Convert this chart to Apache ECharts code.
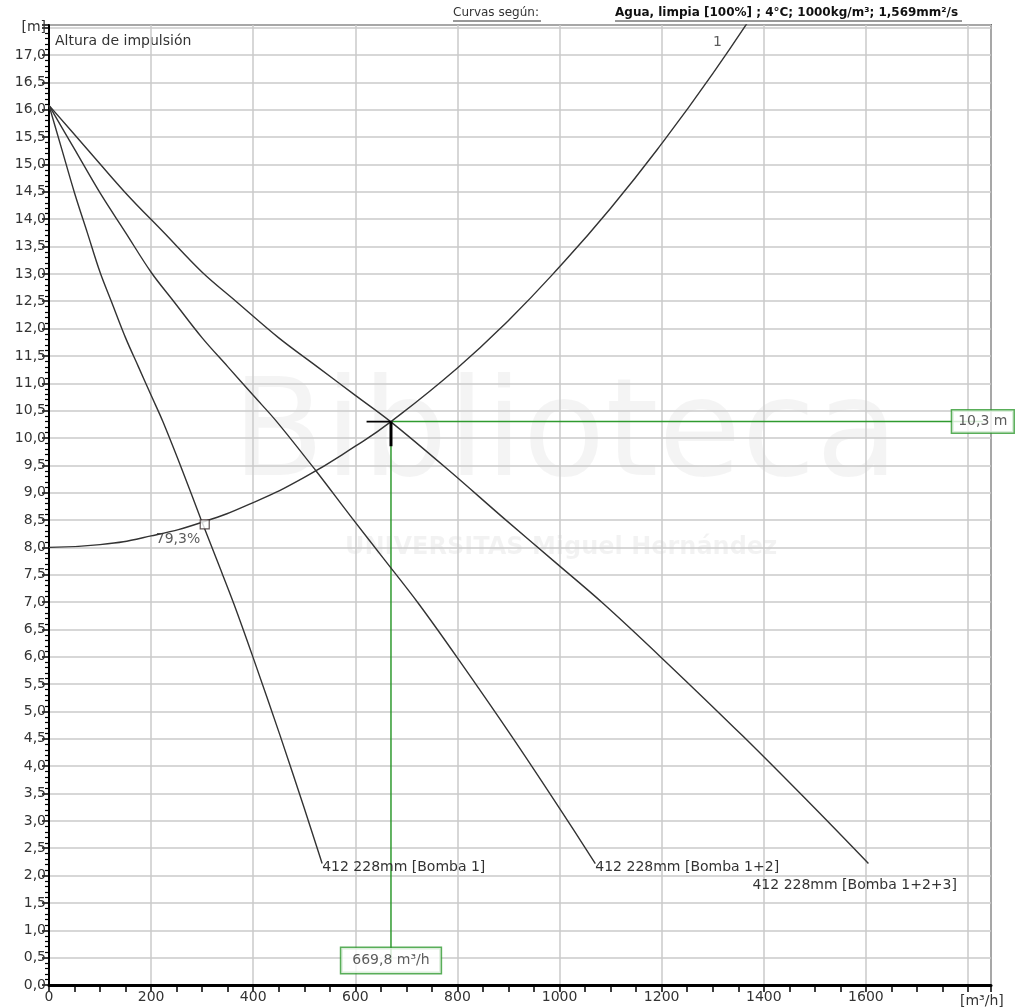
<!DOCTYPE html>
<html><head><meta charset="utf-8">
<script src="https://cdn.jsdelivr.net/npm/echarts@6/dist/echarts.min.js"></script>
<style>html,body{margin:0;padding:0;background:#fff}#c{width:1016px;height:1008px}</style>
</head><body><div id="c"></div>
<script>
// ---- data ----
// single pump curve, flow [m3/h] and head [m]
const bomba1Q   = [0, 25, 50, 75, 100, 122, 150, 175, 200, 223, 261, 297, 330, 362, 400, 453, 500, 535];
const bomba12Q  = [0, 50, 100, 150, 200, 244, 300, 350, 400, 446, 522, 594, 660, 724, 800, 906, 1000, 1070];
const bomba123Q = [0, 75, 150, 225, 300, 366, 450, 525, 600, 669, 783, 891, 990, 1086, 1200, 1359, 1500, 1605];
const bombaH    = [16.08, 15.28, 14.48, 13.755, 13.03, 12.50, 11.83, 11.305, 10.78, 10.30, 9.41, 8.53, 7.74, 6.97, 5.98, 4.55, 3.23, 2.22];
// system curve
const systemQ = [0, 100, 200, 300, 400, 500, 600, 669.8, 800, 900, 1000, 1100, 1200, 1300, 1400];
const systemH = [8.00, 8.05, 8.21, 8.46, 8.82, 9.28, 9.85, 10.30, 11.28, 12.15, 13.13, 14.20, 15.38, 16.66, 18.05];
// operating point
const opQ = 669.8, opH = 10.3;
const opLabelQ = '669,8 m³/h', opLabelH = '10,3 m';
const effPoint = [305, 8.42], effLabel = '79,3%';
const curveLabels = ['412 228mm [Bomba 1]', '412 228mm [Bomba 1+2]', '412 228mm [Bomba 1+2+3]'];
// axes
const xMin = 0, xMax = 1845, xStep = 200, xLastLabel = 1600;
const yMin = 0, yMax = 17.55, yStep = 0.5;

const FF = 'DejaVu Sans';
const GREEN = '#2f9a2f';
const INK = '#333';

const zip = (a, b) => a.map((v, i) => [v, b[i]]);
const chart = echarts.init(document.getElementById('c'), null, {renderer: 'canvas'});

const pumpSeries = (name, q, lbl, off) => ({
  type: 'line', name, data: zip(q, bombaH), smooth: 0.35, symbol: 'none',
  lineStyle: {color: INK, width: 1.4}, z: 3,
  endLabel: {show: true, formatter: lbl, fontFamily: FF, fontSize: 14, color: INK, distance: 0, offset: off}
});

chart.setOption({
  animation: false,
  grid: {left: 49, right: 25, top: 25, bottom: 23, show: true, borderColor: '#000', borderWidth: 1.5},
  xAxis: {
    type: 'value', min: xMin, max: xMax, interval: xStep,
    axisLine: {lineStyle: {color: '#000', width: 3}},
    axisTick: {length: 7, lineStyle: {color: '#000', width: 1.5}},
    minorTick: {show: true, splitNumber: 4, length: 7, lineStyle: {color: '#000', width: 1.5}},
    splitLine: {show: true, lineStyle: {color: '#cacaca', width: 1.5}},
    axisLabel: {fontFamily: FF, fontSize: 14, color: INK, margin: 5,
      formatter: v => (v % xStep === 0 && v <= xLastLabel) ? String(v) : ''}
  },
  yAxis: {
    type: 'value', min: yMin, max: yMax, interval: yStep,
    axisLine: {lineStyle: {color: '#000', width: 2}},
    axisTick: {length: 7, lineStyle: {color: '#000', width: 1.5}},
    minorTick: {show: true, splitNumber: 5, length: 4, lineStyle: {color: '#000', width: 1.2}},
    splitLine: {show: true, lineStyle: {color: '#cacaca', width: 1.5}},
    axisLabel: {fontFamily: FF, fontSize: 14, color: INK, margin: 3,
      formatter: v => {
        if (Math.abs(v - 17.5) < 1e-6) return '[m]';
        if (Math.abs(v * 2 - Math.round(v * 2)) > 1e-6) return '';
        return v.toFixed(1).replace('.', ',');
      }}
  },
  graphic: [
    {type: 'text', left: 232, top: 372, silent: true, z: -10,
      style: {text: 'Biblioteca', font: '135px "DejaVu Sans"', fill: 'rgba(0,0,0,0.045)'}},
    {type: 'text', left: 345, top: 536, silent: true, z: -10,
      style: {text: 'UNIVERSITAS Miguel Hernández', font: 'bold 24px "DejaVu Sans"', fill: 'rgba(0,0,0,0.05)'}},
    {type: 'text', left: 55, top: 34, style: {text: 'Altura de impulsión', font: '14px "DejaVu Sans"', fill: INK}},
    {type: 'text', left: 960, top: 994, style: {text: '[m³/h]', font: '14px "DejaVu Sans"', fill: INK}},
    {type: 'text', left: 453, top: 7, style: {text: 'Curvas según:', font: '12px "DejaVu Sans"', fill: INK}},
    {type: 'line', shape: {x1: 453, y1: 21, x2: 541, y2: 21}, style: {stroke: INK, lineWidth: 1}},
    {type: 'text', left: 615, top: 7, style: {text: 'Agua, limpia [100%] ; 4°C; 1000kg/m³; 1,569mm²/s', font: 'bold 12px "DejaVu Sans"', fill: '#111'}},
    {type: 'line', shape: {x1: 615, y1: 21, x2: 962, y2: 21}, style: {stroke: INK, lineWidth: 1}}
  ],
  series: [
    {type: 'line', data: zip(systemQ, systemH), smooth: true, symbol: 'none', clip: true,
      lineStyle: {color: INK, width: 1.4}, z: 3},
    pumpSeries('b1', bomba1Q, curveLabels[0], [0, 4]),
    pumpSeries('b12', bomba12Q, curveLabels[1], [0, 4]),
    pumpSeries('b123', bomba123Q, curveLabels[2], [-116, 22]),
    // green guide lines to the operating point
    {type: 'line', data: [[opQ, opH], [1829, opH]], symbol: 'none', lineStyle: {color: GREEN, width: 1.5}, z: 2},
    {type: 'line', data: [[opQ, opH], [opQ, 0.45]], symbol: 'none', lineStyle: {color: GREEN, width: 1.5}, z: 2},
    // black T marker
    {type: 'line', data: [[622, opH], [opQ, opH]], symbol: 'none', lineStyle: {color: '#000', width: 1.6}, z: 4},
    {type: 'line', data: [[opQ, opH], [opQ, 9.85]], symbol: 'none', lineStyle: {color: '#000', width: 3}, z: 4},
    // boxes with values
    {type: 'scatter', symbolSize: 1, itemStyle: {color: 'rgba(0,0,0,0)'}, z: 6,
      data: [
        {value: [1829, opH], label: {formatter: opLabelH, padding: [4, 6, 4, 6]}},
        {value: [opQ, 0.45], label: {formatter: opLabelQ, padding: [6, 11, 5, 11]}}
      ],
      label: {show: true, position: 'inside', fontFamily: FF, fontSize: 14, color: INK,
        backgroundColor: '#fff', borderColor: GREEN, borderWidth: 1.5}},
    // efficiency marker
    {type: 'scatter', data: [effPoint], symbol: 'rect', symbolSize: 9, z: 5,
      itemStyle: {color: '#fff', borderColor: '#3a2a2a', borderWidth: 1.2}},
    // text annotations
    {type: 'scatter', symbolSize: 1, itemStyle: {color: 'rgba(0,0,0,0)'}, z: 6,
      data: [
        {value: [252.6, 8.14], label: {formatter: effLabel}},
        {value: [1309, 17.24], label: {formatter: '1'}}
      ],
      label: {show: true, position: 'inside', fontFamily: FF, fontSize: 14, color: INK}}
  ]
});
</script></body></html>
